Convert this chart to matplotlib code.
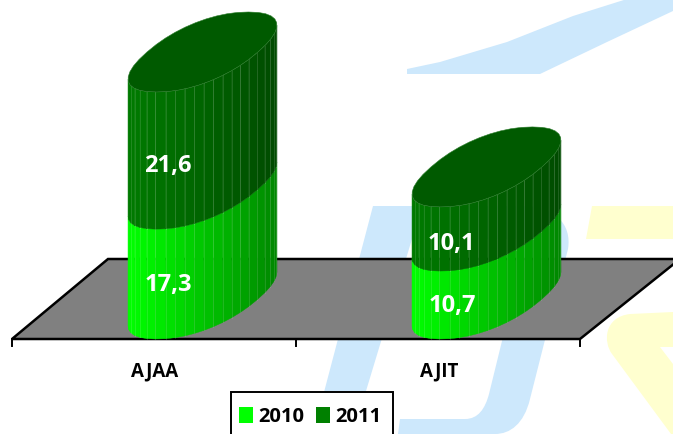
import numpy as np
import matplotlib
matplotlib.use('Agg')
import matplotlib.pyplot as plt
from matplotlib.colors import to_rgb
from matplotlib.patches import Polygon, Rectangle, PathPatch
from matplotlib.path import Path

categories = ['AJAA', 'AJIT']
series_names = ['2010', '2011']
values_2010 = [17.3, 10.7]
values_2011 = [21.6, 10.1]
value_labels_2010 = ['17,3', '10,7']
value_labels_2011 = ['21,6', '10,1']

W, H = 673, 435
FONT = 'Open Sans'
BLUE = '#cde8fc'
YELLOW = '#ffffcf'

# cylinder shape in pixels
HALF_W = 74.5
DY = 40.0
SQUARE = 0.9
PX_PER_UNIT = 6.35
PX_PER_CAT = 284.0
X0_PX, Y0_PX = 202.5, 300.0

fig = plt.figure(figsize=(W / 100, H / 100), dpi=100)

# background layer in pixel coordinates
bg = fig.add_axes([0, 0, 1, 1])
bg.set_xlim(0, W)
bg.set_ylim(H, 0)
bg.axis('off')


def curve(points, color):
    codes = [Path.MOVETO] + [c for c, _ in points[1:]]
    verts = [points[0][1]] + [p for _, p in points[1:]]
    bg.add_patch(PathPatch(Path(verts, codes), fc=color, ec='none', zorder=1))


L, C3 = Path.LINETO, Path.CURVE4
# top swoosh
bg.add_patch(Polygon([(407, 70), (440, 63), (507, 43), (573, 17), (627, 0), (673, 0),
                      (673, 12), (607, 43), (540, 75), (407, 75)], fc=BLUE, ec='none', zorder=1))
# blue letter
curve([(None, (373, 207)), (L, (520, 207)), (C3, (555, 207)), (C3, (572, 225)), (C3, (568, 250)),
       (L, (530, 400)), (C3, (524, 425)), (C3, (510, 435)), (C3, (495, 435)),
       (L, (398, 435)), (L, (400, 420)), (L, (465, 420)), (C3, (478, 420)), (C3, (485, 410)), (C3, (489, 395)),
       (L, (527, 240)), (L, (412, 240)), (L, (353, 435)), (L, (313, 435))], BLUE)
# yellow shapes
bg.add_patch(Polygon([(592, 207), (673, 207), (673, 240), (586, 240)], fc=YELLOW, ec='none', zorder=1))
curve([(None, (630, 315)), (L, (673, 313)), (L, (673, 348)), (L, (660, 348)), (L, (673, 365)),
       (L, (673, 435)), (L, (671, 435)), (L, (612, 355)),
       (C3, (603, 343)), (C3, (604, 318)), (C3, (630, 315))], YELLOW)

# floor
bg.add_patch(Polygon([(12, 340), (108, 260), (680, 260), (580, 340)],
                     fc='#808080', ec='black', lw=1.8, zorder=2))
for tick_x in [12, 296, 580]:
    bg.plot([tick_x, tick_x], [340, 347], color='black', lw=1.4, zorder=2)

# chart layer in category / value units
ax = fig.add_axes([0, 0, 1, 1], facecolor='none')
ax.set_xlim(-X0_PX / PX_PER_CAT, (W - X0_PX) / PX_PER_CAT)
ax.set_ylim((Y0_PX - H) / PX_PER_UNIT, Y0_PX / PX_PER_UNIT)
ax.axis('off')


def shape(t):
    c = np.sign(np.cos(t)) * np.abs(np.cos(t)) ** SQUARE
    s = np.sign(np.sin(t)) * np.abs(np.sin(t)) ** SQUARE
    return c, s


# scale the rim so it is HALF_W wide, and find its left and right ends
fine = np.linspace(0, 2 * np.pi, 2001)
c_f, s_f = shape(fine)
raw = 57.4 * c_f + 47.5 * s_f
K = HALF_W / raw.max()
U, DX = 57.4 * K, 47.5 * K
t_right = fine[np.argmax(raw)]
t_left = t_right + np.pi


def ring(i, level, t):
    c, s = shape(t)
    x = i + (U * c + DX * s) / PX_PER_CAT
    y = level + DY * s / PX_PER_UNIT
    return x, y


def mix(a, b, f):
    f = min(max(f, 0), 1)
    a, b = np.array(to_rgb(a)), np.array(to_rgb(b))
    return tuple(np.clip(a + (b - a) * f, 0, 1))


def side(i, low, high, left, right):
    ts = np.linspace(t_left, t_left + np.pi, 23)
    for k in range(len(ts) - 1):
        xa, ya = ring(i, low, ts[k])
        xb, yb = ring(i, low, ts[k + 1])
        xc, yc = ring(i, high, ts[k + 1])
        xd, yd = ring(i, high, ts[k])
        f = (xa - (i - HALF_W / PX_PER_CAT)) / (2 * HALF_W / PX_PER_CAT)
        col = mix(left, right, f)
        ax.add_patch(Polygon([(xa, ya), (xb, yb), (xc, yc), (xd, yd)], fc=col, ec=col, lw=0.3, zorder=3))
        if k > 1:
            ax.plot([xa, xd], [ya, yd], color='white', alpha=0.13, lw=0.7, zorder=3)


for i in range(len(categories)):
    v1, v2 = values_2010[i], values_2011[i]
    side(i, 0, v1, '#00ff00', '#008400')
    side(i, v1, v1 + v2, '#007a00', '#004a00')
    t = np.linspace(0, 2 * np.pi, 41)
    top_x, top_y = ring(i, v1 + v2, t)
    ax.add_patch(Polygon(np.column_stack([top_x, top_y]), fc='#005a00', ec='#2f7f2f', lw=0.4, zorder=4))

    ax.text(i - 34 / PX_PER_CAT, v1 / 2 - 40 / PX_PER_UNIT, value_labels_2010[i], color='white',
            family=FONT, weight='bold', fontsize=17, ha='center', va='center', zorder=5)
    ax.text(i - 35 / PX_PER_CAT, v1 + v2 / 2 - 44 / PX_PER_UNIT, value_labels_2011[i], color='white',
            family=FONT, weight='bold', fontsize=17, ha='center', va='center', zorder=5)
    ax.text(i - 47.5 / PX_PER_CAT, (Y0_PX - 371) / PX_PER_UNIT, categories[i], color='black',
            family=FONT, weight='bold', fontsize=13.5, ha='center', va='center', zorder=5)

# legend
bg2 = fig.add_axes([0, 0, 1, 1], facecolor='none')
bg2.set_xlim(0, W)
bg2.set_ylim(H, 0)
bg2.axis('off')
bg2.add_patch(Rectangle((230.5, 393), 162.5, 50, fc='white', ec='black', lw=1.4, zorder=5))
for x, name, col in zip([239, 316], series_names, ['#00ff00', '#008000']):
    bg2.add_patch(Rectangle((x, 408), 14, 16, fc=col, ec='none', zorder=6))
    bg2.text(x + 19, 417, name, family=FONT, weight='bold', fontsize=14.5, color='black',
             ha='left', va='center', zorder=6)

fig.savefig('out.png', dpi=100)
